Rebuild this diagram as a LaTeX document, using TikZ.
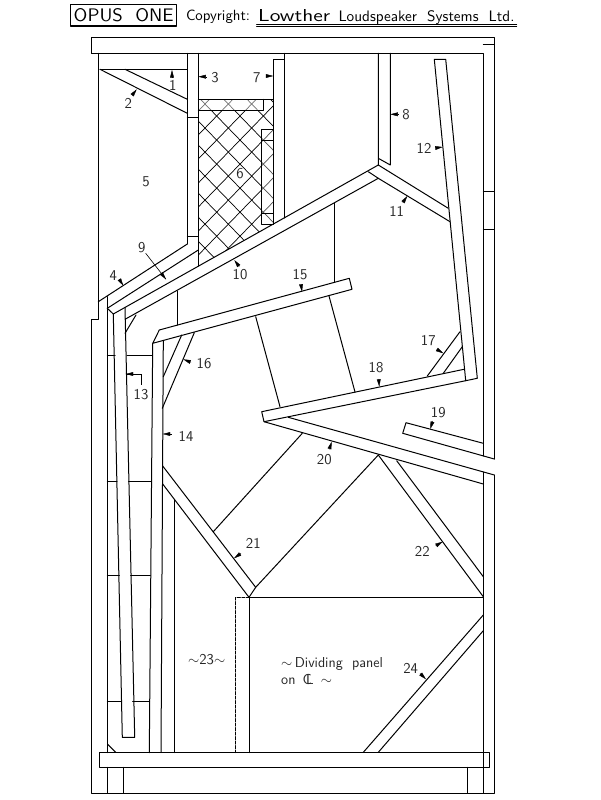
\documentclass[tikz,border=0pt]{standalone}
\usepackage{fontspec}
\usetikzlibrary{arrows.meta}
\tikzset{
  wood/.style={line width=1pt,line cap=round,line join=round},
  hatchline/.style={line width=0.7pt},
  tick/.style={{Triangle[length=7.5pt,width=3.8pt]}-,line width=0.4pt},
  thin leader/.style={line width=0.6pt},
  lab/.style={font=\sffamily\fontsize{15}{15}\selectfont,inner sep=0pt,text=black!85},
  notes/.style={font=\sffamily\fontsize{14.4}{14.4}\selectfont,inner sep=0pt,anchor=west,text=black!85},
}
\begin{document}
\begin{tikzpicture}[x=1pt,y=-1pt]
\useasboundingbox (0,0) rectangle (600,800);
\fill[white] (0,0) rectangle (600,800);
% hatching
\begin{scope}
\clip (198.3,99.3)--(273.3,99.3)--(273.3,224)--(198.3,266)--cycle;
\foreach \k in {-9,...,5}{
  \draw[hatchline] ({205+23.33*\k-200},{104-206})--({205+23.33*\k+200},{104+206});
}
\foreach \k in {-5,...,9}{
  \draw[hatchline] ({205+23.33*\k+200},{104-206})--({205+23.33*\k-200},{104+206});
}
\fill[white,opacity=.45] (198.3,99.3) rectangle (263.3,110.7);
\fill[white,opacity=.3] (261.7,129.3) rectangle (273.3,224);
\end{scope}
\begin{scope}[wood]
% title
\draw[line width=1.2pt] (70.7,4.3) rectangle (176.7,26);
\draw (256.7,24.3)--(516.7,24.3) (256.7,27)--(516.7,27);
% top panel and right wall
\draw (91.7,53.3)--(91.7,37.3)--(494.3,37.3)--(494.3,459);
\draw (91.7,53.3)--(483.3,53.3)--(483.3,456);
\draw (483.3,45)--(494.3,45) (483.3,191.7)--(494.3,191.7) (483.3,229)--(494.3,229);
\draw (483.3,472)--(483.3,793.3) (494.3,475)--(494.3,793.3)--(91.7,793.3)--(91.7,319.3)--(98.3,319.3)--(98.3,53.3);
% base
\draw (99.3,752.7) rectangle (489.3,767.3);
\draw (107.3,767.3)--(107.3,793.3) (123.3,767.3)--(123.3,793.3) (467.3,767.3)--(467.3,793.3);
% panels 1, 2, 3
\draw (100,69.3)--(187.3,69.3);
\draw (100,69.3)--(187.3,113.3) (125,69.3)--(187.3,99.3);
\draw (187.3,53.3)--(187.3,244) (198.3,53.3)--(198.3,266);
\draw (187.3,117.3)--(198.3,117.3) (187.3,236)--(198.3,236);
% panel 7 and box
\draw (273.3,224)--(273.3,59.3)--(284.3,59.3) (284.3,53.3)--(284.3,218);
\draw (198.3,99.3)--(273.3,99.3) (198.3,110.7)--(263.3,110.7)--(263.3,99.3);
\draw (273.3,129.3)--(261.7,129.3)--(261.7,224)--(273.3,224);
\draw (261.7,140.7)--(273.3,140.7) (261.7,213.3)--(273.3,213.3);
% panel 8
\draw (378.3,53.3)--(378.3,165) (390.3,53.3)--(390.3,165)--(378.3,158.3);
% panels 4, 9, 10
\draw (98.3,301.7)--(187.3,244);
\draw (107.3,308.3)--(198.3,250);
\draw (113.3,314)--(378.3,165);
\draw (125,319.3)--(378.3,178.3);
\draw (107.3,308.3)--(113.3,314);
% panel 11
\draw (378.3,165)--(448.3,208.3) (378.3,178.3)--(450,221.7) (368.3,171.7)--(378.3,178.3);
% panel 12
\draw (434.3,59.3)--(445.7,59.3)--(477.3,378.3)--(465.7,380.7)--cycle;
% left side
\draw (107.3,296.7)--(107.3,752.7);
\draw (113.3,314)--(122.3,737.3)--(134.7,737.3)--(125,307.4);
\draw (125,333.3)--(136,315) (107.7,744.3)--(115.7,752.3);
\draw (107.3,355)--(115.2,355) (127,355)--(152.4,355);
\draw (107.3,481)--(117,481) (128.6,481)--(151.2,481);
\draw (107.3,575)--(119.3,575) (130.7,575)--(150.3,575);
\draw (107.3,701.7)--(121,701.7) (132.7,701.7)--(149.5,701.7);
% panels 14, 15, 16
\draw (163.3,341)--(161,752.7) (152.7,343.3)--(149.3,752.7);
\draw (152.7,343.3)--(159.3,330)--(349.3,278.3)--(352,289.3)--cycle;
\draw (181.7,335)--(163.3,376.7) (194.3,332.7)--(162.3,408.3);
\draw (177.3,291)--(177.3,325) (334.3,203.3)--(334.3,281.7);
% driver lines
\draw (255.7,316.7)--(280,406.7) (329,296)--(355,392);
% panels 17, 18
\draw (261.7,411.7)--(464,369.3) (261.7,411.7)--(264,421.7)--(465.7,380.7);
\draw (460,331.7)--(427.3,376) (462.3,346.7)--(443.3,373.3);
% panels 19, 20
\draw (288.3,417.3)--(494.3,475) (264,421.7)--(483.3,484);
\draw (483.3,443.3)--(406,422.7)--(402.7,433.3)--(494.3,459);
% panels 21, 22, 24
\draw (162.7,466)--(255.7,587.3)--(249,597.3)--(162.7,484);
\draw (174.3,500)--(174.3,752.7);
\draw (302.3,433.3)--(213.3,531.7);
\draw (378.3,455)--(255.7,587.3);
\draw (378.3,455)--(483.3,596.7) (396.7,460.7)--(483.3,576.7);
\draw (249.3,597.3)--(483.3,597.3) (249.3,597.3)--(249.3,752.7);
\draw[dashed,dash pattern=on 3pt off 1.5pt] (249.3,597.3)--(235.7,597.3)--(235.7,752.7);
\draw (363.3,752.3)--(483.3,615) (378.3,752.3)--(483.3,630.7);
\end{scope}
% leaders
\draw[tick] (172,70)--(172,77);
\draw[tick] (136.7,89.3)--(132.3,95);
\draw[tick] (198.3,76.7)--(206.7,76.7);
\draw[tick] (273.3,76)--(265.7,76);
\draw[tick] (390.3,114.3)--(398.3,114.3);
\draw[tick] (442.7,147)--(435.7,148);
\draw[thin leader] (145.7,253.3)--(166,279.3);
\draw[tick] (166,279.3)--(161,273);
\draw[tick] (123.3,285.7)--(119.3,279.3);
\draw[tick] (234.3,260)--(239.3,266.7);
\draw[tick] (302,291.7)--(301,284.3);
\draw[tick] (407.3,196)--(402.7,202.7);
\draw[tick] (443.3,353.3)--(436.7,349.3);
\draw[tick] (379.3,386.7)--(378.7,379);
\draw[tick] (183.3,359.3)--(191,362.3);
\draw[line width=0.7pt] (125.7,374)--(141,374)--(141,385);
\draw[tick] (125.7,374)--(134,374);
\draw[tick] (162.7,434)--(171.7,434);
\draw[tick] (430.3,429)--(432.7,421);
\draw[tick] (331.7,441.7)--(329.3,449.3);
\draw[tick] (234,558.3)--(241,553.3);
\draw[tick] (442.7,541.7)--(435.7,545.7);
\draw[tick] (426,679.3)--(420,673.3);
% labels
\node[inner sep=0pt] (title) at (123.7,15.3) {\resizebox{100pt}{13pt}{\sffamily OPUS\ \ ONE}};
\node[inner sep=0pt] (copy) at (218,16.5) {\resizebox{64pt}{!}{\sffamily Copyright:}};
\node[inner sep=0pt,anchor=base west] (lowther) at (258,21.5) {\resizebox{72pt}{12pt}{\sffamily Lowther}};
\node[inner sep=0pt,anchor=base west] (lss) at (338.3,21.5) {\resizebox{176pt}{!}{\sffamily Loudspeaker\ \ Systems\ \ Ltd.}};
\node[lab] (n1) at (172.7,85) {1};
\node[lab] (n2) at (128.3,103.3) {2};
\node[lab] (n3) at (215,77.3) {3};
\node[lab] (n4) at (113.3,275.3) {4};
\node[lab] (n5) at (146,181.7) {5};
\node[lab] (n6) at (240,174) {6};
\node[lab] (n7) at (256.7,77.3) {7};
\node[lab] (n8) at (406,115) {8};
\node[lab] (n9) at (141.7,247.3) {9};
\node[lab] (n10) at (240,275) {10};
\node[lab] (n11) at (396.7,211.7) {11};
\node[lab] (n12) at (424,148.3) {12};
\node[lab] (n13) at (141,395) {13};
\node[lab] (n14) at (186,436) {14};
\node[lab] (n15) at (300,275) {15};
\node[lab] (n16) at (204,364) {16};
\node[lab] (n17) at (428.3,341) {17};
\node[lab] (n18) at (376,367.3) {18};
\node[lab] (n19) at (438.3,412.7) {19};
\node[lab] (n20) at (324.3,459.3) {20};
\node[lab] (n21) at (253.3,543.3) {21};
\node[lab] (n22) at (422.3,551) {22};
\node[lab] (n23) at (206.7,660) {$\sim$23$\sim$};
\node[lab] (n24) at (410.7,668.3) {24};
\node[notes] (div) at (281,664) {$\sim$\,Dividing\ \ panel};
\node[notes] (on) at (281,679) {on\ \,\rlap{C}\kern3.5pt L\,\ $\sim$};
\end{tikzpicture}
\end{document}
